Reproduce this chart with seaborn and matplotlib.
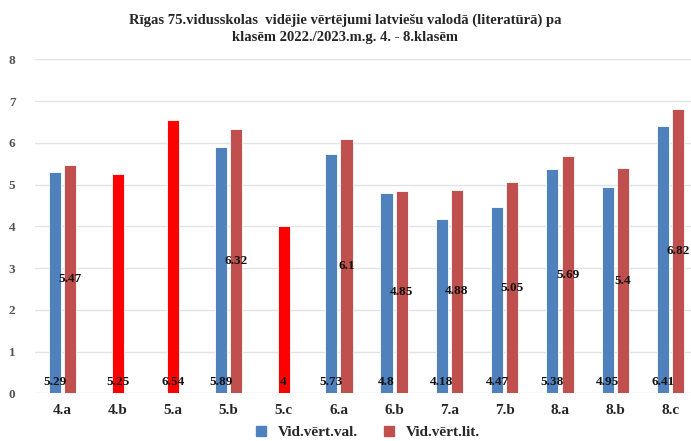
import matplotlib
matplotlib.use("Agg")
import matplotlib.pyplot as plt
from matplotlib.lines import Line2D
import numpy as np
import pandas as pd
import seaborn as sns

# class names and average grades
classes = ["4.a", "4.b", "5.a", "5.b", "5.c", "6.a", "6.b", "7.a", "7.b", "8.a", "8.b", "8.c"]
val_grades = [5.29, np.nan, np.nan, 5.89, np.nan, 5.73, 4.8, 4.18, 4.47, 5.38, 4.95, 6.41]
lit_grades = [5.47, np.nan, np.nan, 6.32, np.nan, 6.1, 4.85, 4.88, 5.05, 5.69, 5.4, 6.82]
# classes with only one grade (drawn as a single bright red bar)
single_grades = [np.nan, 5.25, 6.54, np.nan, 4, np.nan, np.nan, np.nan, np.nan, np.nan, np.nan, np.nan]

series_names = ["Vid.vērt.val.", "Vid.vērt.lit."]
blue, red, bright_red = "#4F81BD", "#C0504D", "#FF0000"

pairs = pd.DataFrame({
    "klase": classes * 2,
    "vert": val_grades + lit_grades,
    "serija": [series_names[0]] * len(classes) + [series_names[1]] * len(classes),
})
singles = pd.DataFrame({"klase": classes, "vert": single_grades})

sns.set_style("white")
plt.rcParams["font.family"] = ["Liberation Serif", "DejaVu Serif"]

fig = plt.figure(figsize=(6.91, 4.41), dpi=100)
ax = fig.add_axes([0.0504, 0.108, 0.9496, 0.7575])

sns.barplot(data=pairs.dropna(), x="klase", y="vert", hue="serija", order=classes,
            hue_order=series_names, palette=[blue, red], saturation=1, width=0.55, gap=0.2,
            ax=ax, legend=False, edgecolor="white", linewidth=0.6)
sns.barplot(data=singles.dropna(), x="klase", y="vert", order=classes, saturation=1,
            color=bright_red, width=0.22, ax=ax, edgecolor="white", linewidth=0.6)

# data labels
offs = 0.1375
lab_kw = dict(ha="center", va="center", fontsize=9.5, fontweight="bold", color="#111111")
for i in range(len(classes)):
    if not np.isnan(val_grades[i]):
        ax.text(i - offs, 0.27, f"{val_grades[i]:g}", **lab_kw)
        ax.text(i + offs, lit_grades[i] / 2, f"{lit_grades[i]:g}", **lab_kw)
    else:
        ax.text(i, 0.27, f"{single_grades[i]:g}", **lab_kw)

ax.set_ylim(0, 8)
ax.set_xlim(-0.5, 11.37)
ax.set_yticks(range(0, 9))
ax.yaxis.grid(True, color="#E3E3E3", linewidth=1)
ax.set_axisbelow(True)
for s in ax.spines.values():
    s.set_visible(False)
ax.set_xlabel("")
ax.set_ylabel("")
ax.tick_params(axis="y", length=0, labelsize=9.5, labelcolor="#555555", pad=14)
ax.tick_params(axis="x", length=0, labelsize=11, pad=8)
for t in ax.get_xticklabels():
    t.set_fontweight("bold")
for t in ax.get_yticklabels():
    t.set_fontweight("bold")

fig.text(0.5, 0.935, "Rīgas 75.vidusskolas  vidējie vērtējumi latviešu valodā (literatūrā) pa\nklasēm 2022./2023.m.g. 4. - 8.klasēm",
         ha="center", va="center", fontsize=10.5, fontweight="bold", linespacing=1.45)

handles = [Line2D([], [], marker="s", linestyle="", color=c, markersize=7) for c in (blue, red)]
fig.legend(handles, series_names, loc="center", bbox_to_anchor=(0.525, 0.02), ncol=2,
           frameon=False, handletextpad=0.1, columnspacing=1.0,
           prop={"weight": "bold", "size": 11})

fig.savefig("out.png", dpi=100)
